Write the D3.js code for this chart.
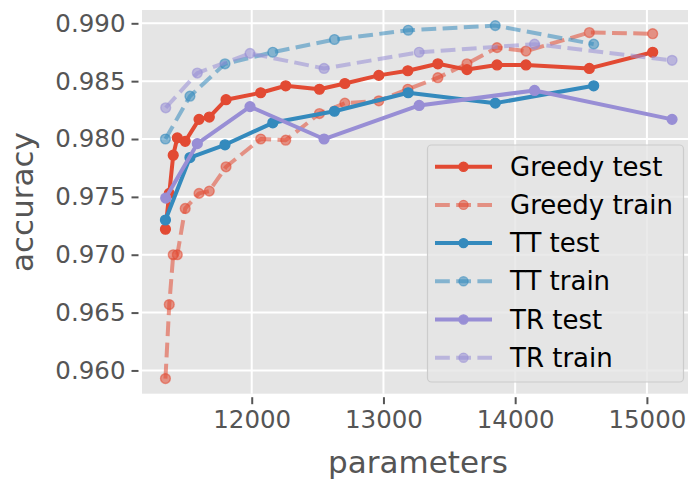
<!DOCTYPE html>
<html>
<head>
<meta charset="utf-8">
<script src="https://cdn.jsdelivr.net/npm/d3@7"></script>
<style>
  html, body { margin: 0; padding: 0; background: #ffffff; }
  svg { display: block; font-family: "DejaVu Sans", sans-serif; }
</style>
</head>
<body>
<svg id="chart" width="688" height="479"></svg>
<script>
// ---- data ----
const greedyX = [11345, 11374, 11404, 11435, 11495, 11600, 11678, 11805, 12068, 12258,
                 12514, 12707, 12965, 13185, 13413, 13634, 13862, 14082, 14563, 15044];
const greedyTest = [0.9722, 0.9753, 0.9786, 0.9801, 0.9798, 0.9817, 0.9819, 0.9834, 0.9840, 0.9846,
                    0.9843, 0.9848, 0.9855, 0.9859, 0.9865, 0.9860, 0.9864, 0.9864, 0.9861, 0.9875];
const greedyTrain = [0.9593, 0.9657, 0.9700, 0.9700, 0.9740, 0.9753, 0.9755, 0.9776, 0.9800, 0.9799,
                     0.9822, 0.9831, 0.9833, 0.9843, 0.9853, 0.9865, 0.9879, 0.9876, 0.9892, 0.9891];
const ttX = [11345, 11531, 11797, 12160, 12628, 13188, 13849, 14596];
const ttTest = [0.9730, 0.9784, 0.9795, 0.9814, 0.9824, 0.9840, 0.9831, 0.9846];
const ttTrain = [0.9800, 0.9837, 0.9865, 0.9875, 0.9886, 0.9894, 0.9898, 0.9882];
const trX = [11347, 11587, 11987, 12549, 13271, 14147, 15191];
const trTest = [0.9749, 0.9796, 0.9828, 0.9800, 0.9829, 0.9842, 0.9817];
const trTrain = [0.9827, 0.9857, 0.9874, 0.9861, 0.9875, 0.9882, 0.9868];
const xTicks = [12000, 13000, 14000, 15000];
const yTicks = [0.960, 0.965, 0.970, 0.975, 0.980, 0.985, 0.990];
const seriesNames = ["Greedy test", "Greedy train", "TT test", "TT train", "TR test", "TR train"];

const series = [
  { name: seriesNames[0], xs: greedyX, ys: greedyTest,  color: "#E24A33", train: false },
  { name: seriesNames[1], xs: greedyX, ys: greedyTrain, color: "#E24A33", train: true },
  { name: seriesNames[2], xs: ttX,     ys: ttTest,      color: "#348ABD", train: false },
  { name: seriesNames[3], xs: ttX,     ys: ttTrain,     color: "#348ABD", train: true },
  { name: seriesNames[4], xs: trX,     ys: trTest,      color: "#988ED5", train: false },
  { name: seriesNames[5], xs: trX,     ys: trTrain,     color: "#988ED5", train: true }
];

// ---- layout ----
const plotL = 142, plotR = 693, plotT = 10, plotB = 393.7;
const svg = d3.select("#chart");
const x = d3.scaleLinear().domain([11167, 15350]).range([plotL, plotR]);
const y = d3.scaleLinear().domain([0.95799, 0.99115]).range([plotB, plotT]);

// background
svg.append("rect").attr("x", plotL).attr("y", plotT)
  .attr("width", plotR - plotL).attr("height", plotB - plotT).attr("fill", "#E5E5E5");

// grid
const grid = svg.append("g");
grid.selectAll(".gx").data(xTicks).join("line")
  .attr("x1", d => x(d)).attr("x2", d => x(d)).attr("y1", plotT).attr("y2", plotB)
  .attr("stroke", "#ffffff").attr("stroke-width", 2);
grid.selectAll(".gy").data(yTicks).join("line")
  .attr("x1", plotL).attr("x2", plotR).attr("y1", d => y(d)).attr("y2", d => y(d))
  .attr("stroke", "#ffffff").attr("stroke-width", 2);

// axes
const xAxis = svg.append("g").attr("transform", `translate(0,${plotB + 3.5})`)
  .call(d3.axisBottom(x).tickValues(xTicks).tickFormat(d3.format("d")).tickSize(7).tickPadding(6));
const yAxis = svg.append("g").attr("transform", `translate(${plotL - 3.5},0)`)
  .call(d3.axisLeft(y).tickValues(yTicks).tickFormat(d3.format(".3f")).tickSize(7).tickPadding(6));
[xAxis, yAxis].forEach(a => {
  a.select(".domain").remove();
  a.selectAll(".tick line").attr("stroke", "#555555").attr("stroke-width", 2);
  a.selectAll(".tick text").attr("fill", "#555555")
    .style("font-family", "DejaVu Sans").style("font-size", "24.5px");
});

// axis labels
svg.append("text").attr("x", 418).attr("y", 473).attr("text-anchor", "middle")
  .attr("fill", "#555555").style("font-size", "31px").text("parameters");
svg.append("text").attr("transform", `translate(33,202) rotate(-90)`).attr("text-anchor", "middle")
  .attr("fill", "#555555").style("font-size", "31px").text("accuracy");

// lines
const lineGen = d3.line().x(d => x(d[0])).y(d => y(d[1]));
const plot = svg.append("g");
series.forEach(s => {
  const pts = s.xs.map((v, i) => [v, s.ys[i]]);
  const g = plot.append("g").attr("opacity", s.train ? 0.55 : 1);
  g.append("path").datum(pts).attr("d", lineGen)
    .attr("fill", "none").attr("stroke", s.color).attr("stroke-width", 4)
    .attr("stroke-linejoin", "round")
    .attr("stroke-dasharray", s.train ? "14.8,6.4" : null);
  const mg = plot.append("g");
  mg.selectAll("circle").data(pts).join("circle")
    .attr("cx", d => x(d[0])).attr("cy", d => y(d[1])).attr("r", 4.9)
    .attr("fill", s.color).attr("fill-opacity", s.train ? 0.55 : 1)
    .attr("stroke", s.color).attr("stroke-opacity", s.train ? 0.55 : 1).attr("stroke-width", 1.4);
});

// legend
const lg = svg.append("g");
lg.append("rect").attr("x", 427.5).attr("y", 145).attr("width", 256).attr("height", 237)
  .attr("rx", 4).attr("fill", "#E5E5E5").attr("fill-opacity", 0.8)
  .attr("stroke", "#CCCCCC").attr("stroke-width", 1.2);
const rowY = d3.scaleLinear().domain([0, 5]).range([166.7, 357.7]);
series.forEach((s, i) => {
  const yy = rowY(i);
  lg.append("line").attr("x1", 435).attr("x2", 492).attr("y1", yy).attr("y2", yy)
    .attr("stroke", s.color).attr("stroke-width", 4).attr("stroke-opacity", s.train ? 0.55 : 1)
    .attr("stroke-dasharray", s.train ? "14.8,6.4" : null);
  lg.append("circle").attr("cx", 463.5).attr("cy", yy).attr("r", 4.6)
    .attr("fill", s.color).attr("fill-opacity", s.train ? 0.55 : 1)
    .attr("stroke", s.color).attr("stroke-opacity", s.train ? 0.55 : 1).attr("stroke-width", 1.2);
  lg.append("text").attr("x", 510).attr("y", yy).attr("dy", "0.35em")
    .attr("fill", "#000000").style("font-size", "26px").text(s.name);
});
</script>
</body>
</html>
